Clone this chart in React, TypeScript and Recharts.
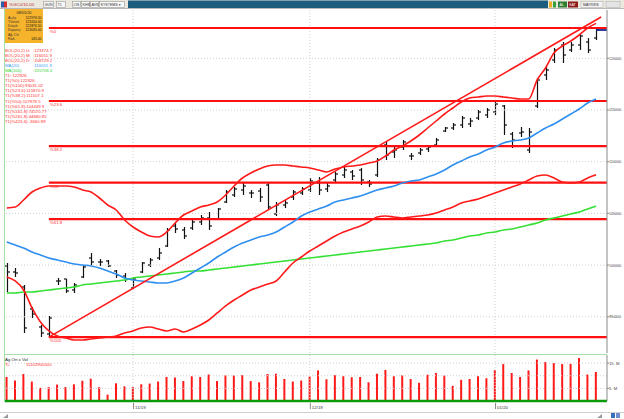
import React from "react";
import { Bar, ComposedChart, Line, ReferenceLine, XAxis, YAxis } from "recharts";

const FONT = "'Liberation Sans', 'DejaVu Sans', sans-serif";
const RED = "#ff1a1a";

// daily bars, oct 2019 .. jan 2020
const opens = [
  99915, 99334, 97884, 95757, 94016, 93339, 98464, 98658, 97594, 98851,
  100688, 100302, 100398, 99431, 98948, 97787, 99334, 100011, 100688, 101849,
  103783, 103396, 103589, 104170, 104556, 104460, 106104, 106780, 107264, 106974,
  107167, 107747, 104943, 105813, 106587, 106974, 107264, 107941, 107361, 108231,
  108714, 109004, 109198, 108038, 108714, 111616, 110939, 111422, 110552, 110842,
  111229, 111616, 112969, 113259, 113550, 113646, 114226, 114517, 114807, 115387,
  112679, 112776, 111132, 115387, 118385, 119835, 121286, 120802, 121286, 121576,
  121962,
];
const highs = [
  100205, 99721, 98077, 95950, 94210, 95080, 98754, 98658, 98271, 99915,
  101172, 100592, 100495, 99528, 99238, 98754, 100302, 100688, 101655, 103589,
  104073, 103686, 104363, 104846, 105137, 105523, 107264, 107554, 108038, 107264,
  107457, 107941, 106104, 106297, 107264, 107554, 108424, 108521, 107941, 109004,
  109488, 109198, 109391, 108231, 110358, 111906, 111422, 112099, 110842, 111325,
  111616, 112292, 113356, 113743, 114420, 114226, 115000, 115193, 115773, 115484,
  112873, 113356, 113259, 118094, 119158, 120995, 121576, 121576, 122446, 121962,
  122929,
];
const lows = [
  97401, 98851, 93436, 94887, 93049, 93049, 98077, 97304, 97304, 98754,
  100011, 99915, 99818, 98754, 98368, 97691, 99238, 99818, 100495, 101752,
  103106, 102526, 103396, 103879, 103396, 104363, 106007, 106587, 106780, 106490,
  106104, 105330, 104749, 105523, 106297, 106780, 107071, 106780, 107071, 108038,
  108424, 108231, 107747, 107554, 108521, 110165, 110358, 111132, 110165, 110648,
  110939, 111422, 112873, 113066, 113259, 113356, 114033, 114226, 114517, 112582,
  111325, 112389, 110842, 115193, 117901, 119545, 119545, 120609, 120802, 120512,
  121769,
];
const closes = [
  99334, 99238, 93920, 95273, 93436, 94887, 98464, 97497, 98077, 99818,
  100302, 100302, 99915, 99044, 98658, 98658, 100205, 100495, 101172, 103396,
  103493, 102815, 104170, 104556, 103783, 105427, 107071, 107361, 107651, 106974,
  106587, 105620, 105813, 106007, 107071, 107361, 108134, 107264, 107651, 108811,
  109198, 108618, 108231, 107844, 110165, 110648, 111132, 111906, 110552, 111132,
  111422, 112099, 113259, 113550, 114226, 113936, 114807, 115000, 115580, 113550,
  112099, 112873, 112873, 117901, 118868, 120802, 120319, 121286, 122156, 120802,
  122736,
];
const ma20 = [
  102236, 101945, 101655, 101269, 100978, 100688, 100495, 100302, 100108, 100011,
  99915, 99721, 99431, 99141, 98754, 98561, 98464, 98368, 98271, 98271,
  98464, 98754, 99238, 99721, 100205, 100785, 101269, 101752, 102139, 102429,
  102719, 102912, 103203, 103686, 104170, 104749, 105137, 105427, 105716, 106104,
  106297, 106490, 106684, 106974, 107264, 107457, 107651, 107941, 108134, 108231,
  108521, 108811, 109198, 109681, 110068, 110455, 110745, 111132, 111422, 111809,
  112002, 112099, 112292, 112776, 113259, 113646, 114130, 114613, 115097, 115677,
  116052,
];
const ma100 = [
  97304, 97304, 97401, 97401, 97497, 97594, 97691, 97787, 97884, 98077,
  98174, 98271, 98368, 98464, 98561, 98754, 98851, 98948, 99044, 99141,
  99238, 99334, 99431, 99431, 99528, 99625, 99721, 99818, 99915, 100011,
  100108, 100205, 100302, 100398, 100495, 100592, 100688, 100785, 100882, 100978,
  101075, 101172, 101269, 101365, 101462, 101559, 101655, 101752, 101849, 101945,
  102042, 102139, 102332, 102429, 102622, 102815, 102912, 103106, 103203, 103396,
  103493, 103686, 103879, 104073, 104363, 104556, 104749, 104943, 105137, 105427,
  105708,
];
const bbUpper = [
  105523, 105620, 106297, 107071, 107457, 107651, 107651, 107651, 107554, 107264,
  107071, 106490, 105813, 105330, 104363, 103686, 103203, 102815, 102719, 103203,
  104073, 104846, 105233, 105620, 105813, 106104, 106780, 107651, 108424, 108908,
  109295, 109585, 109681, 109681, 109585, 109488, 109391, 109198, 109004, 109295,
  109488, 109585, 109681, 109875, 110068, 110552, 111132, 111519, 112002, 112582,
  113259, 113936, 114613, 115193, 115773, 116160, 116257, 116354, 116354, 116257,
  116160, 116064, 116064, 117901, 119061, 120512, 121189, 121672, 122253, 122929,
  123375,
];
const bbLower = [
  98851, 98464, 97594, 95853, 94500, 93629, 93146, 92952, 92759, 92759,
  92856, 92952, 93049, 93146, 93436, 93629, 93920, 94016, 93823, 93629,
  93823, 93533, 93823, 94210, 94693, 95370, 96047, 96627, 97110, 97594,
  97884, 98174, 98464, 99334, 100205, 100785, 101365, 101849, 102332, 102815,
  103203, 103493, 103783, 104170, 104653, 104749, 104653, 104556, 104653, 104749,
  104846, 105040, 105330, 105620, 106007, 106200, 106394, 106684, 106974, 107264,
  107554, 107844, 108231, 108618, 108714, 108424, 108038, 107941, 108038, 108424,
  108729,
];
// volume in millions
const volumes = [
  9.5, 8.1, 10.7, 7.7, 5.2, 5.5, 6.5, 5.5, 6.6, 8.0,
  8.8, 5.5, 2.5, 7.0, 5.8, 5.5, 6.6, 6.9, 7.7, 9.5,
  9.3, 7.9, 9.8, 9.5, 10.5, 7.9, 10.2, 10.1, 10.2, 7.9,
  7.4, 10.7, 10.8, 8.7, 7.7, 8.1, 9.7, 12.1, 8.6, 10.2,
  9.8, 9.4, 9.5, 7.4, 10.8, 12.3, 9.8, 10.2, 8.7, 7.2,
  10.4, 11.1, 10.1, 6.0, 8.4, 8.7, 9.8, 9.0, 12.3, 14.6,
  11.1, 9.5, 12.1, 16.4, 15.4, 15.0, 14.6, 14.7, 17.0, 10.5,
  11.5,
];

const fibStart = 5;
const fibLevels = [
  { label: "%0", value: 122926 },
  { label: "%23.6", value: 115871 },
  { label: "%38.2", value: 111507 },
  { label: "%50", value: 107979 },
  { label: "%61.8", value: 104451 },
  { label: "%100", value: 93032 },
];
const trendStart = { i: 5, v: 93040 };
const trendEnd = { i: 70.6, v: 123990 };

const priceTicks = [95000, 100000, 105000, 110000, 115000, 120000];
const volTicks = [0, 5, 10, 15];
const monthTicks = [15, 36, 58];
const monthLabels = ["11/19", "12/19", "01/20"];

const legendRows = [
  { a: "BOL(20,2) U:", b: ":123374.7", c: "#ff3030" },
  { a: "BOL(20,2) M:", b: ":116051.9", c: "#ff3030" },
  { a: "BOL(20,2) D:", b: ":108729.2", c: "#ff3030" },
  { a: "MA(20)", b: ":116051.9", c: "#3a9cf0" },
  { a: "MA(100)", b: ":105708.4", c: "#36d436" },
  { a: "T1::122926.", b: "", c: "#ff3030" },
  { a: "T1(%0):122926.", b: "", c: "#ff3030" },
  { a: "T1(%100):93031.02", b: "", c: "#ff3030" },
  { a: "T1(%23.6):115870.9", b: "", c: "#ff3030" },
  { a: "T1(%38.2):111507.1", b: "", c: "#ff3030" },
  { a: "T1(%50):107978.5", b: "", c: "#ff3030" },
  { a: "T1(%61.8):104449.9", b: "", c: "#ff3030" },
  { a: "T1(%161.8):74570.77", b: "", c: "#ff3030" },
  { a: "T1(%261.8):44680.85", b: "", c: "#ff3030" },
  { a: "T1(%423.6):-3660.89", b: "", c: "#ff3030" },
];
const infoTitle = "08/01/20";
const infoRows = [
  ["Açılış", "122976.50"],
  ["Yüksek", "123200.00"],
  ["Düşük", "122876.50"],
  ["Kapanış", "123035.00"],
  ["Ağ. Ort", ""],
  ["Fark", "145.00"],
];
const toolButtons = [
  { x: 43, w: 10, t: "GÜN" },
  { x: 56, w: 9, t: "T1" },
  { x: 72, w: 8, t: "LIN" },
  { x: 81, w: 8, t: "KHS" },
  { x: 90, w: 8, t: "AVS" },
  { x: 99, w: 25, t: "SYSTEMS ▾" },
];

const X_DOMAIN: [number, number] = [-0.21, 71.3];
const PRICE_DOMAIN: [number, number] = [91500, 124670];
const VOL_DOMAIN: [number, number] = [0, 18.2];

const mainRows = opens.map((o, k) => ({
  i: k,
  open: o,
  high: highs[k],
  low: lows[k],
  close: closes[k],
  range: [lows[k], highs[k]],
  ma20: ma20[k],
  ma100: ma100[k],
  bbUp: bbUpper[k],
  bbLow: bbLower[k],
}));
const volRows = volumes.map((v, k) => ({ i: k, vol: v }));

function OhlcBar(props: any) {
  const { x, y, width, height, payload } = props;
  if (!payload || height == null || isNaN(y)) return null;
  const cx = Math.round(x + width / 2) + 0.5;
  const span = payload.high - payload.low || 1;
  const yo = y + ((payload.high - payload.open) / span) * height;
  const yc = y + ((payload.high - payload.close) / span) * height;
  return (
    <g stroke="#111" strokeWidth={1.2}>
      <line x1={cx} x2={cx} y1={y} y2={y + height} />
      <line x1={cx - 2.5} x2={cx} y1={yo} y2={yo} />
      <line x1={cx} x2={cx + 2.5} y1={yc} y2={yc} />
    </g>
  );
}

function FibLabel(props: any) {
  const vb = props.viewBox || { x: 0, y: 0 };
  return (
    <text x={vb.x + 1} y={vb.y + 5.2} fontSize={4.4} fill="#ff3030" fontFamily={FONT}>
      {props.value}
    </text>
  );
}

function PriceTick(props: any) {
  const { x, y, payload } = props;
  return (
    <text x={x} y={y + 1.5} fontSize={4.2} fill="#444" fontFamily={FONT} textLength={13} lengthAdjust="spacingAndGlyphs">
      {payload.value}.
    </text>
  );
}

function VolTick(props: any) {
  const { x, y, payload } = props;
  const v = payload.value;
  const label = v === 0 ? "0" : `${v}. M`;
  return (
    <text x={x} y={y + 1.5} fontSize={4.2} fill="#444" fontFamily={FONT}>
      {label}
    </text>
  );
}

function MonthTick(props: any) {
  const { x, y, payload } = props;
  const label = monthLabels[monthTicks.indexOf(payload.value)];
  return (
    <g>
      <line x1={x + 0.5} x2={x + 0.5} y1={y} y2={y + 6} stroke="#888" />
      <text x={x + 2} y={y + 6} fontSize={4.4} fill="#333" fontFamily={FONT}>
        {label}
      </text>
    </g>
  );
}

function Overlay() {
  return (
    <svg width={624} height={419} style={{ position: "absolute", left: 0, top: 0, pointerEvents: "none" }}>
      {/* toolbar */}
      <rect x={0} y={0} width={624} height={9} fill="#ebe8df" />
      <line x1={0} x2={624} y1={8.5} y2={8.5} stroke="#b8b8b8" />
      <rect x={1} y={1.5} width={3} height={6} fill="#2d5fb0" />
      <rect x={4} y={1.5} width={3} height={6} fill="#d23030" />
      <text x={9} y={6.4} fontSize={4.4} fill="#c03030" fontFamily={FONT}>
        %GC0/10.00
      </text>
      {toolButtons.map((b) => (
        <g key={b.t}>
          <rect x={b.x + 0.5} y={1.5} width={b.w} height={6} fill="#f7f7f7" stroke="#9a9a9a" strokeWidth={0.6} />
          <text x={b.x + 1.5} y={6.2} fontSize={3.6} fill="#333" fontFamily={FONT}>
            {b.t}
          </text>
        </g>
      ))}
      <rect x={128} y={0.5} width={420} height={7.5} fill="#1d5d7e" />
      <rect x={549} y={1.5} width={3} height={6} fill="#e8b020" />
      <rect x={553} y={1.5} width={3} height={6} fill="#3aa03a" />
      <rect x={558} y={1.5} width={9} height={6} fill="#2e7d32" />
      <text x={559.5} y={6.2} fontSize={3.6} fill="#fff" fontFamily={FONT}>AL</text>
      <rect x={568} y={1.5} width={10} height={6} fill="#8e1b1b" />
      <text x={569} y={6.2} fontSize={3.6} fill="#fff" fontFamily={FONT}>SAT</text>
      <rect x={581} y={1.5} width={22} height={6} fill="#f2f2f2" stroke="#aaa" strokeWidth={0.5} />
      <text x={583} y={6.2} fontSize={3.6} fill="#333" fontFamily={FONT}>MATRIKS</text>
      <rect x={606} y={1.5} width={14} height={6} fill="#e4e4e4" stroke="#aaa" strokeWidth={0.5} />

      {/* pane borders */}
      <line x1={4.5} x2={4.5} y1={9} y2={402} stroke="#a6e0a6" />
      <line x1={4} x2={607} y1={354.5} y2={354.5} stroke="#a6e0a6" />

      {/* info box */}
      <rect x={5} y={9} width={38} height={34} fill="#f6b42d" />
      <text x={24} y={13.5} fontSize={3.8} fill="#222" textAnchor="middle" fontFamily={FONT}>
        {infoTitle}
      </text>
      {infoRows.map((r, k) => (
        <g key={r[0]}>
          <text x={8} y={18.5 + k * 4.3} fontSize={3.4} fill="#333" fontFamily={FONT}>{r[0]}</text>
          <text x={41.5} y={18.5 + k * 4.3} fontSize={3.4} fill="#111" textAnchor="end" fontFamily={FONT}>{r[1]}</text>
        </g>
      ))}

      {/* indicator legend */}
      {legendRows.map((r, k) => (
        <g key={r.a}>
          <text x={5} y={51.5 + k * 5.1} fontSize={4.3} fill={r.c} fontFamily={FONT}>{r.a}</text>
          {r.b && (
            <text x={33} y={51.5 + k * 5.1} fontSize={4.3} fill={r.c} fontFamily={FONT}>{r.b}</text>
          )}
        </g>
      ))}

      {/* volume legend */}
      <text x={5} y={360.5} fontSize={4.3} fill="#222" fontFamily={FONT}>Ag.Ort x Vol</text>
      <text x={5} y={366} fontSize={4.3} fill="#ff3030" fontFamily={FONT}>TL</text>
      <text x={26} y={366} fontSize={4.3} fill="#ff3030" fontFamily={FONT}>11102900000</text>

      {/* bottom strip */}
      <line x1={0} x2={624} y1={412.5} y2={412.5} stroke="#cfcfcf" />
      <path d="M3 418 L8 418 L8 414 Z" fill="#9a9a9a" />
      <path d="M597 418 L602 418 L602 414 Z" fill="#9a9a9a" />
      <rect x={611} y={413} width={4} height={5} fill="#3a6fc0" />
      <rect x={616} y={413} width={4} height={5} fill="#6c8fd0" />
    </svg>
  );
}

export default function App() {
  return (
    <div style={{ position: "absolute", left: 0, top: 0, width: 624, height: 419, background: "#fff", overflow: "hidden" }}>
      <div style={{ position: "absolute", left: 0, top: 0 }}>
        <ComposedChart width={624} height={355} data={mainRows} margin={{ top: 10, right: 0, bottom: 2, left: 5 }}>
          <XAxis dataKey="i" type="number" domain={X_DOMAIN} hide allowDataOverflow />
          <YAxis
            orientation="right"
            width={17}
            domain={PRICE_DOMAIN}
            ticks={priceTicks}
            allowDataOverflow
            axisLine={{ stroke: "#8a8a8a" }}
            tickLine={{ stroke: "#8a8a8a" }}
            tickSize={2}
            tickMargin={0}
            tick={<PriceTick />}
          />
          {priceTicks.map((v) => (
            <ReferenceLine key={`g${v}`} y={v} stroke="#cfcfcf" strokeDasharray="1 2" />
          ))}
          {monthTicks.map((m) => (
            <ReferenceLine key={`m${m}`} x={m} stroke="#cfcfcf" strokeDasharray="1 2" />
          ))}
          {fibLevels.map((f) => (
            <ReferenceLine
              key={f.label}
              segment={[
                { x: fibStart, y: f.value },
                { x: X_DOMAIN[1], y: f.value },
              ]}
              stroke="#ff0f0f"
              strokeWidth={2.1}
              label={{ value: f.label, content: FibLabel }}
            />
          ))}
          <Line dataKey="ma100" type="monotone" stroke="#33e033" strokeWidth={1.6} dot={false} isAnimationActive={false} />
          <Line dataKey="ma20" type="monotone" stroke="#2f8ff0" strokeWidth={1.6} dot={false} isAnimationActive={false} />
          <Line dataKey="bbUp" type="monotone" stroke={RED} strokeWidth={1.6} dot={false} isAnimationActive={false} />
          <Line dataKey="bbLow" type="monotone" stroke={RED} strokeWidth={1.6} dot={false} isAnimationActive={false} />
          <ReferenceLine
            segment={[
              { x: trendStart.i, y: trendStart.v },
              { x: trendEnd.i, y: trendEnd.v },
            ]}
            stroke={RED}
            strokeWidth={1.6}
          />
          <ReferenceLine
            segment={[
              { x: 70, y: closes[70] },
              { x: X_DOMAIN[1], y: closes[70] },
            ]}
            stroke="#1a2890"
            strokeWidth={1.8}
          />
          <Bar dataKey="range" barSize={5} shape={<OhlcBar />} isAnimationActive={false} />
        </ComposedChart>
      </div>
      <div style={{ position: "absolute", left: 0, top: 353 }}>
        <ComposedChart width={624} height={66} data={volRows} margin={{ top: 2, right: 0, bottom: 7, left: 5 }}>
          <XAxis
            dataKey="i"
            type="number"
            domain={X_DOMAIN}
            ticks={monthTicks}
            allowDataOverflow
            axisLine={false}
            tickLine={false}
            tickSize={0}
            height={11}
            tick={<MonthTick />}
          />
          <YAxis
            orientation="right"
            width={17}
            domain={VOL_DOMAIN}
            ticks={volTicks}
            allowDataOverflow
            axisLine={{ stroke: "#8a8a8a" }}
            tickLine={{ stroke: "#8a8a8a" }}
            tickSize={2}
            tickMargin={0}
            tick={<VolTick />}
          />
          {volTicks.slice(1).map((v) => (
            <ReferenceLine key={`v${v}`} y={v} stroke="#cfcfcf" strokeDasharray="1 2" />
          ))}
          {monthTicks.map((m) => (
            <ReferenceLine key={`vm${m}`} x={m} stroke="#cfcfcf" strokeDasharray="1 2" />
          ))}
          <Bar dataKey="vol" fill="#ff1a1a" barSize={2} isAnimationActive={false} />
          <ReferenceLine y={0} stroke="#0a9a0a" strokeWidth={2.5} />
        </ComposedChart>
      </div>
      <Overlay />
    </div>
  );
}
